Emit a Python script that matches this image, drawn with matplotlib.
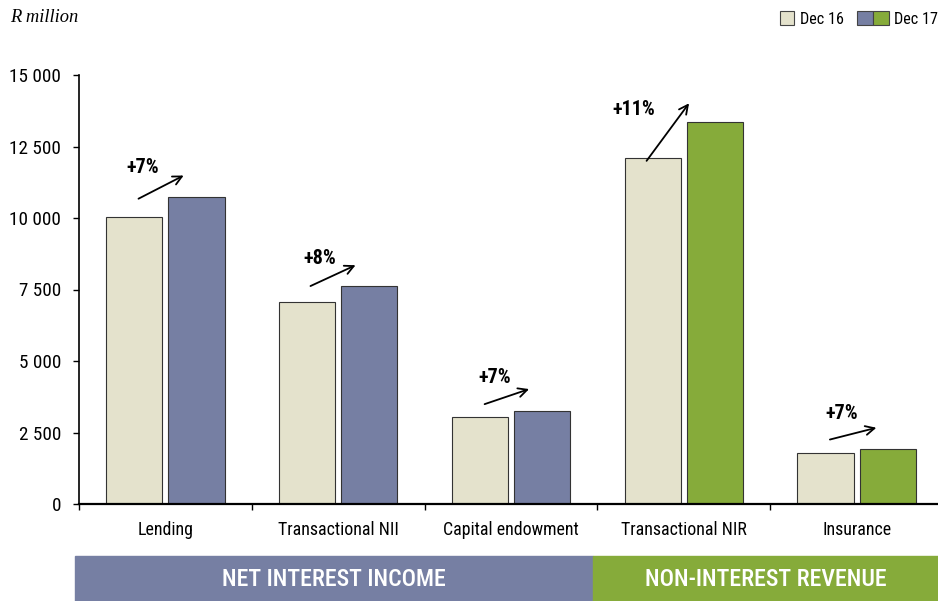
import matplotlib.pyplot as plt
from matplotlib.patches import Rectangle
from matplotlib import font_manager
import numpy as np

names = {f.name for f in font_manager.fontManager.ttflist}
narrow = [n for n in ["Liberation Sans Narrow", "Roboto Condensed", "Open Sans Condensed", "Roboto"] if n in names]
plt.rcParams['font.family'] = narrow[:1] + ['DejaVu Sans']

# data
categories = ["Lending", "Transactional NII", "Capital endowment", "Transactional NIR", "Insurance"]
dec16 = [10030, 7060, 3040, 12100, 1780]
dec17 = [10730, 7620, 3250, 13360, 1920]
growth = ["+7%", "+8%", "+7%", "+11%", "+7%"]
yticks = [0, 2500, 5000, 7500, 10000, 12500, 15000]

beige = "#E4E2CC"
blue = "#767FA3"
green = "#86AB3A"
dec17_colors = [blue, blue, blue, green, green]

W, H = 938, 601
fig = plt.figure(figsize=(W / 100, H / 100), dpi=100)
# axes from x=79px to 943px (runs off right edge), y 75px..504px
ax = fig.add_axes([79 / W, (H - 504) / H, 864 / W, 429 / H])

x = np.arange(len(categories))
bw = 0.325
ax.bar(x - 0.18, dec16, width=bw, color=beige, edgecolor="#333333", linewidth=0.8)
ax.bar(x + 0.18, dec17, width=bw, color=dec17_colors, edgecolor="#333333", linewidth=0.8)

ax.set_xlim(-0.5, 4.5)
ax.set_ylim(0, 15000)
ax.set_yticks(yticks)
ax.set_yticklabels([f"{v:,}".replace(",", " ") for v in yticks], fontsize=13.8)
ax.set_xticks(np.arange(-0.5, 5.0, 1.0))
ax.set_xticklabels([])
ax.tick_params(axis="x", length=4.5, width=1)
ax.tick_params(axis="y", length=4, width=1, pad=9)
for i, c in enumerate(categories):
    ax.text(i, -600, c, ha="center", va="top", fontsize=12.9)
for s in ["top", "right"]:
    ax.spines[s].set_visible(False)
ax.spines["left"].set_linewidth(1.2)
ax.spines["bottom"].set_linewidth(1.6)

# growth arrows: (x0 offset, y0 gap above dec16, x1 offset, y1 gap above dec17)
arrows = [(-0.17, 600, 0.12, 800),
          (-0.175, 520, 0.115, 770),
          (-0.168, 420, 0.12, 800),
          (-0.225, -180, 0.04, 730),
          (-0.17, 450, 0.13, 770)]
labels_pos = [(-0.13, 11750), (0.895, 8600), (1.907, 4440), (2.71, 13780), (3.915, 3180)]
for i, (a, lp) in enumerate(zip(arrows, labels_pos)):
    ax.annotate("", xy=(i + a[2], dec17[i] + a[3]), xytext=(i + a[0], dec16[i] + a[1]),
                arrowprops=dict(arrowstyle="->", color="black", lw=1.3, mutation_scale=16))
    ax.text(lp[0], lp[1], growth[i], ha="center", va="center", fontsize=14.5, fontweight="bold")

# bottom bands
fig.patches.append(Rectangle((75 / W, 0), (593 - 75) / W, 45 / H, transform=fig.transFigure,
                             color=blue, zorder=0))
fig.patches.append(Rectangle((593 / W, 0), (W - 593) / W, 45 / H, transform=fig.transFigure,
                             color=green, zorder=0))
fig.text((75 + 593) / 2 / W, 22 / H, "NET INTEREST INCOME", color="white", fontsize=17.2,
         ha="center", va="center", fontweight="medium")
fig.text((593 + W) / 2 / W, 22 / H, "NON-INTEREST REVENUE", color="white", fontsize=17.2,
         ha="center", va="center", fontweight="medium")

# unit label
fig.text(10 / W, 1 - 18 / H, "R million", fontsize=13.3, style="italic",
         family="Liberation Serif", va="center")

# legend
fig.patches.append(Rectangle((780 / W, 1 - 25 / H), 14 / W, 14 / H, transform=fig.transFigure,
                             facecolor=beige, edgecolor="#444444", lw=0.8))
fig.text(800 / W, 1 - 19 / H, "Dec 16", fontsize=11.6, va="center")
fig.patches.append(Rectangle((857 / W, 1 - 25 / H), 16 / W, 14 / H, transform=fig.transFigure,
                             facecolor=blue, edgecolor="#444444", lw=0.8))
fig.patches.append(Rectangle((873 / W, 1 - 25 / H), 16 / W, 14 / H, transform=fig.transFigure,
                             facecolor=green, edgecolor="#444444", lw=0.8))
fig.text(894 / W, 1 - 19 / H, "Dec 17", fontsize=11.6, va="center")

fig.savefig("out.png", dpi=100)
